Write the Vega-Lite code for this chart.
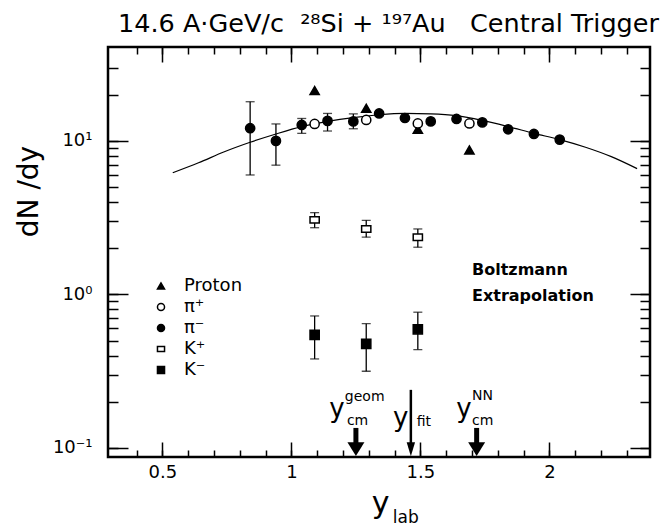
{
  "$schema": "https://vega.github.io/schema/vega-lite/v6.json",
  "autosize": {"type": "none"},
  "padding": {"left": 108, "top": 47, "right": 20, "bottom": 74},
  "width": 542,
  "height": 410,
  "background": "white",
  "config": {
    "font": "DejaVu Sans",
    "view": {"stroke": "black", "strokeWidth": 2.5},
    "axis": {"grid": false, "domain": false, "tickColor": "black", "tickWidth": 1.5, "labelColor": "black", "titleColor": "black"}
  },
  "title": {
    "text": "14.6 A·GeV/c\u00a0 ²⁸Si + ¹⁹⁷Au\u00a0\u00a0 Central Trigger",
    "anchor": "start",
    "frame": "group",
    "dx": 10,
    "dy": 26,
    "offset": 15,
    "baseline": "alphabetic",
    "fontSize": 25.5,
    "font": "DejaVu Sans",
    "fontWeight": "normal",
    "color": "black"
  },
  "resolve": {"axis": {"x": "independent", "y": "independent"}},
  "layer": [
    {
      "data": {"values": [
        {"x": 0.54, "y": 6.2}, {"x": 0.64, "y": 7.2}, {"x": 0.74, "y": 8.5}, {"x": 0.84, "y": 9.8},
        {"x": 0.94, "y": 11.1}, {"x": 1.04, "y": 12.4}, {"x": 1.14, "y": 13.4}, {"x": 1.24, "y": 14.2},
        {"x": 1.34, "y": 14.8}, {"x": 1.44, "y": 15.1}, {"x": 1.54, "y": 15.0}, {"x": 1.64, "y": 14.6},
        {"x": 1.74, "y": 13.6}, {"x": 1.84, "y": 12.4}, {"x": 1.94, "y": 11.2}, {"x": 2.04, "y": 10.2},
        {"x": 2.14, "y": 9.1}, {"x": 2.24, "y": 7.9}, {"x": 2.34, "y": 6.6}
      ]},
      "mark": {"type": "line", "color": "black", "strokeWidth": 1.2, "interpolate": "monotone"},
      "encoding": {
        "x": {"field": "x", "type": "quantitative",
          "scale": {"domain": [0.289, 2.39], "nice": false, "zero": false},
          "axis": {
            "orient": "bottom",
            "values": [0.5, 1, 1.5, 2],
            "tickSize": 15,
            "offset": -15,
            "labelExpr": "'' + datum.value",
            "labelPadding": 6,
            "labelFontSize": 18,
            "labelFont": "DejaVu Sans",
            "labelFlush": false,
            "title": "y",
            "titleFontSize": 30,
            "titleFont": "DejaVu Sans",
            "titleFontWeight": "normal",
            "titleX": 272,
            "titleY": 70,
            "titleBaseline": "alphabetic",
            "titleAlign": "center"
          }
        },
        "y": {"field": "y", "type": "quantitative",
          "scale": {"type": "log", "domain": [0.0873, 40.9], "nice": false},
          "axis": {
            "orient": "left",
            "values": [0.1, 1, 10],
            "tickSize": 20,
            "offset": -20,
            "labelExpr": "datum.value == 0.1 ? '10⁻¹' : datum.value == 1 ? '10⁰' : '10¹'",
            "labelPadding": 16,
            "labelFontSize": 18,
            "labelFont": "DejaVu Sans",
            "title": "dN /dy",
            "titleFontSize": 28,
            "titleFont": "DejaVu Sans",
            "titleFontWeight": "normal",
            "titleX": -91,
            "titleY": 144,
            "titleBaseline": "alphabetic",
            "titleAlign": "center"
          }
        }
      }
    },
    {
      "data": {"values": [
        {"x": 0.84, "lo": 6.0, "hi": 18.0},
        {"x": 0.94, "lo": 6.95, "hi": 12.9},
        {"x": 1.04, "lo": 11.2, "hi": 14.0},
        {"x": 1.14, "lo": 11.6, "hi": 15.1},
        {"x": 1.24, "lo": 12.0, "hi": 15.0},
        {"x": 1.09, "lo": 2.72, "hi": 3.41},
        {"x": 1.29, "lo": 2.36, "hi": 3.04},
        {"x": 1.49, "lo": 2.03, "hi": 2.67},
        {"x": 1.09, "lo": 0.38, "hi": 0.724},
        {"x": 1.29, "lo": 0.316, "hi": 0.645},
        {"x": 1.49, "lo": 0.437, "hi": 0.766}
      ]},
      "layer": [
        {
          "mark": {"type": "rule", "color": "black", "strokeWidth": 1.3},
          "encoding": {
            "x": {"field": "x", "type": "quantitative", "axis": null},
            "y": {"field": "lo", "type": "quantitative", "axis": null},
            "y2": {"field": "hi"}
          }
        },
        {
          "mark": {"type": "tick", "color": "black", "orient": "horizontal", "size": 9, "thickness": 1.3},
          "encoding": {
            "x": {"field": "x", "type": "quantitative", "axis": null},
            "y": {"field": "lo", "type": "quantitative", "axis": null}
          }
        },
        {
          "mark": {"type": "tick", "color": "black", "orient": "horizontal", "size": 9, "thickness": 1.3},
          "encoding": {
            "x": {"field": "x", "type": "quantitative", "axis": null},
            "y": {"field": "hi", "type": "quantitative", "axis": null}
          }
        }
      ]
    },
    {
      "data": {"values": [
        {"particle": "Proton", "x": 1.09, "y": 21.3},
        {"particle": "Proton", "x": 1.29, "y": 16.3},
        {"particle": "Proton", "x": 1.49, "y": 11.9},
        {"particle": "Proton", "x": 1.69, "y": 8.74},
        {"particle": "π⁺", "x": 1.09, "y": 12.9},
        {"particle": "π⁺", "x": 1.29, "y": 13.7},
        {"particle": "π⁺", "x": 1.49, "y": 13.0},
        {"particle": "π⁺", "x": 1.69, "y": 13.0},
        {"particle": "π⁻", "x": 0.84, "y": 12.1},
        {"particle": "π⁻", "x": 0.94, "y": 10.0},
        {"particle": "π⁻", "x": 1.04, "y": 12.7},
        {"particle": "π⁻", "x": 1.14, "y": 13.5},
        {"particle": "π⁻", "x": 1.24, "y": 13.4},
        {"particle": "π⁻", "x": 1.34, "y": 15.1},
        {"particle": "π⁻", "x": 1.44, "y": 14.1},
        {"particle": "π⁻", "x": 1.54, "y": 13.4},
        {"particle": "π⁻", "x": 1.64, "y": 13.9},
        {"particle": "π⁻", "x": 1.74, "y": 13.2},
        {"particle": "π⁻", "x": 1.84, "y": 11.9},
        {"particle": "π⁻", "x": 1.94, "y": 11.1},
        {"particle": "π⁻", "x": 2.04, "y": 10.2},
        {"particle": "K⁺", "x": 1.09, "y": 3.06},
        {"particle": "K⁺", "x": 1.29, "y": 2.67},
        {"particle": "K⁺", "x": 1.49, "y": 2.36},
        {"particle": "K⁻", "x": 1.09, "y": 0.545},
        {"particle": "K⁻", "x": 1.29, "y": 0.476},
        {"particle": "K⁻", "x": 1.49, "y": 0.593}
      ]},
      "mark": {"type": "point", "filled": true, "stroke": "black", "strokeWidth": 1.5, "size": 85, "opacity": 1},
      "encoding": {
        "x": {"field": "x", "type": "quantitative",
          "axis": {
            "orient": "bottom",
            "values": [0.4,0.5,0.6,0.7,0.8,0.9,1,1.1,1.2,1.3,1.4,1.5,1.6,1.7,1.8,1.9,2,2.1,2.2,2.3],
            "tickSize": 7, "offset": -7, "labels": false, "title": null
          }
        },
        "y": {"field": "y", "type": "quantitative",
          "axis": {
            "orient": "left",
            "values": [0.1,0.2,0.3,0.4,0.5,0.6,0.7,0.8,0.9,1,2,3,4,5,6,7,8,9,10,20,30],
            "tickSize": 10, "offset": -10, "labels": false, "title": null
          }
        },
        "shape": {"field": "particle", "type": "nominal",
          "scale": {"domain": ["Proton", "π⁺", "π⁻", "K⁺", "K⁻"],
                    "range": ["triangle-up", "circle", "circle", "M-1,-0.7L1,-0.7L1,0.7L-1,0.7Z", "square"]},
          "legend": {"orient": "none", "legendX": 44, "legendY": 230, "title": null, "labelFontSize": 18, "labelFont": "DejaVu Sans", "labelColor": "black", "symbolSize": 50, "rowPadding": 3, "labelOffset": 14, "padding": 0,
            "encode": {"symbols": {"update": {"stroke": {"value": "black"}, "strokeWidth": {"value": 1.5}}}}}
        },
        "fill": {"field": "particle", "type": "nominal",
          "scale": {"domain": ["Proton", "π⁺", "π⁻", "K⁺", "K⁻"],
                    "range": ["black", "white", "black", "white", "black"]},
          "legend": {"orient": "none", "legendX": 44, "legendY": 230, "title": null, "labelFontSize": 18, "labelFont": "DejaVu Sans", "labelColor": "black", "symbolSize": 50, "rowPadding": 3, "labelOffset": 14, "padding": 0,
            "encode": {"symbols": {"update": {"stroke": {"value": "black"}, "strokeWidth": {"value": 1.5}}}}}
        }
      }
    },
    {
      "data": {"values": [
        {"x": 1.25, "y": 0.135, "y2": 0.1034},
        {"x": 1.718, "y": 0.135, "y2": 0.1034}
      ]},
      "mark": {"type": "rule", "color": "black", "strokeWidth": 5},
      "encoding": {
        "x": {"field": "x", "type": "quantitative",
          "axis": {"orient": "top", "values": [0.5, 1, 1.5, 2], "tickSize": 15, "offset": -15, "labels": false, "title": null}
        },
        "y": {"field": "y", "type": "quantitative",
          "axis": {"orient": "right", "values": [0.1, 1, 10], "tickSize": 20, "offset": -20, "labels": false, "title": null}
        },
        "y2": {"field": "y2"}
      }
    },
    {
      "data": {"values": [
        {"x": 1.463, "y": 0.239, "y2": 0.1034}
      ]},
      "mark": {"type": "rule", "color": "black", "strokeWidth": 2.5},
      "encoding": {
        "x": {"field": "x", "type": "quantitative",
          "axis": {
            "orient": "top",
            "values": [0.4,0.5,0.6,0.7,0.8,0.9,1,1.1,1.2,1.3,1.4,1.5,1.6,1.7,1.8,1.9,2,2.1,2.2,2.3],
            "tickSize": 7, "offset": -7, "labels": false, "title": null
          }
        },
        "y": {"field": "y", "type": "quantitative",
          "axis": {
            "orient": "right",
            "values": [0.1,0.2,0.3,0.4,0.5,0.6,0.7,0.8,0.9,1,2,3,4,5,6,7,8,9,10,20,30],
            "tickSize": 10, "offset": -10, "labels": false, "title": null
          }
        },
        "y2": {"field": "y2"}
      }
    },
    {
      "data": {"values": [
        {"x": 1.25, "y": 0.0982},
        {"x": 1.718, "y": 0.0982}
      ]},
      "mark": {"type": "point", "shape": "M-1,-0.8L1,-0.8L0,0.8Z", "size": 289, "filled": true, "color": "black", "opacity": 1},
      "encoding": {
        "x": {"field": "x", "type": "quantitative", "axis": null},
        "y": {"field": "y", "type": "quantitative", "axis": null}
      }
    },
    {
      "data": {"values": [
        {"x": 1.463, "y": 0.098}
      ]},
      "mark": {"type": "point", "shape": "M-0.6,-1L0.6,-1L0,1Z", "size": 196, "filled": true, "color": "black", "opacity": 1},
      "encoding": {
        "x": {"field": "x", "type": "quantitative", "axis": null},
        "y": {"field": "y", "type": "quantitative", "axis": null}
      }
    },
    {
      "data": {"values": [
        {"x": 1.176, "y": 0.159, "t": "y"},
        {"x": 1.424, "y": 0.139, "t": "y"},
        {"x": 1.669, "y": 0.159, "t": "y"}
      ]},
      "mark": {"type": "text", "fontSize": 26, "font": "DejaVu Sans", "align": "center", "baseline": "alphabetic", "color": "black"},
      "encoding": {
        "x": {"field": "x", "type": "quantitative", "axis": null},
        "y": {"field": "y", "type": "quantitative", "axis": null},
        "text": {"field": "t"}
      }
    },
    {
      "data": {"values": [
        {"x": 1.215, "y": 0.141, "t": "cm"},
        {"x": 1.207, "y": 0.202, "t": "geom"},
        {"x": 1.486, "y": 0.139, "t": "fit"},
        {"x": 1.700, "y": 0.141, "t": "cm"},
        {"x": 1.700, "y": 0.205, "t": "NN"}
      ]},
      "mark": {"type": "text", "fontSize": 14, "font": "DejaVu Sans", "align": "left", "baseline": "alphabetic", "color": "black"},
      "encoding": {
        "x": {"field": "x", "type": "quantitative", "axis": null},
        "y": {"field": "y", "type": "quantitative", "axis": null},
        "text": {"field": "t"}
      }
    },
    {
      "data": {"values": [
        {"x": 1.393, "y": 0.0324, "t": "lab"}
      ]},
      "mark": {"type": "text", "fontSize": 17, "font": "DejaVu Sans", "align": "left", "baseline": "alphabetic", "color": "black"},
      "encoding": {
        "x": {"field": "x", "type": "quantitative", "axis": null},
        "y": {"field": "y", "type": "quantitative", "axis": null},
        "text": {"field": "t"}
      }
    },
    {
      "data": {"values": [
        {"x": 1.70, "y": 1.45, "t": "Boltzmann"},
        {"x": 1.70, "y": 0.977, "t": "Extrapolation"}
      ]},
      "mark": {"type": "text", "fontSize": 16, "fontWeight": "bold", "font": "DejaVu Sans", "align": "left", "baseline": "middle", "color": "black"},
      "encoding": {
        "x": {"field": "x", "type": "quantitative", "axis": null},
        "y": {"field": "y", "type": "quantitative", "axis": null},
        "text": {"field": "t"}
      }
    }
  ]
}
